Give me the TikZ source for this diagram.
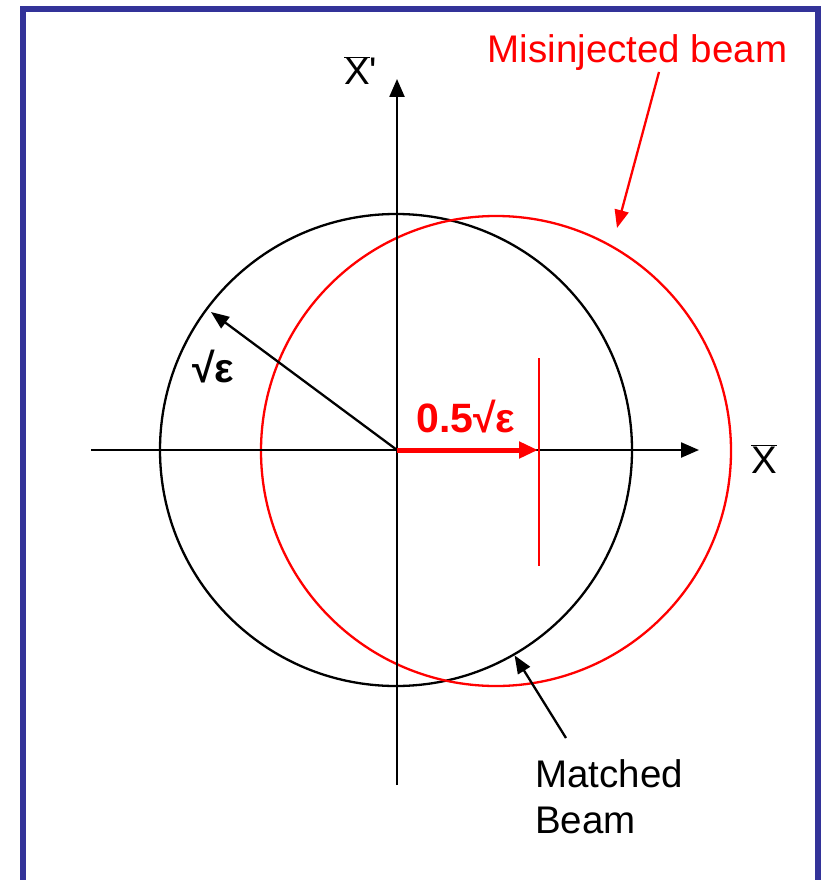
\documentclass[tikz,border=0pt]{standalone}
\usepackage{fontspec}
\setmainfont{Liberation Sans}
\newfontfamily\rawsans{Liberation Sans}
\usetikzlibrary{arrows.meta}
\definecolor{framecol}{HTML}{333399}
\definecolor{beamred}{HTML}{FF0000}
\begin{document}
\begin{tikzpicture}[x=1pt,y=-1pt,
  axis/.style={line width=2.3pt,-{Triangle[length=18pt,width=15pt]}},
  pointer/.style={line width=2.3pt,-{Triangle[length=18pt,width=14pt]}},
  lbl/.style={inner sep=0pt,font=\fontsize{38.5}{46}\selectfont},
  boldlbl/.style={inner sep=0pt,font=\fontsize{41}{46}\selectfont\bfseries}]
\useasboundingbox (0,0) rectangle (821,880);
\draw[framecol,line width=6pt] (23,9) rectangle (818,900);
% circles
\node[circle,draw,line width=2.3pt,minimum size=472pt,inner sep=0pt] (matched) at (396,450) {};
\node[circle,draw=beamred,line width=2.3pt,minimum size=470pt,inner sep=0pt] (mis) at (496,451) {};
\coordinate (O) at (397,450);
% axes
\coordinate (xs) at (91,450);
\coordinate (xe) at (699,450);
\coordinate (ys) at (397,785);
\coordinate (ye) at (397,79);
\draw[axis] (xs) -- (xe);
\draw[axis] (ys) -- (ye);
% radius arrow
\coordinate (rt) at (211,312);
\draw[pointer] (O) -- (rt);
\node[boldlbl,anchor=base west] (eps) at (192,382) {√ε};
% shift arrow
\coordinate (st) at (538,450);
\draw[beamred,line width=5pt,-{Triangle[length=19pt,width=16pt]}] (O) -- (st);
\coordinate (vt) at (539,358);
\coordinate (vb) at (539,566);
\draw[beamred,line width=2.5pt] (vt) -- (vb);
\node[boldlbl,anchor=base west,text=beamred] (half) at (416,432) {0.5√ε};
% axis labels
\node[lbl,anchor=base] (xlab) at (764,473) {$\overline{\mbox{X}}$};
\node[lbl,anchor=base west] (xplab) at (344,85) {$\overline{\mbox{X}}${\rawsans '}};
% misinjected
\node[lbl,anchor=base,text=beamred] (mislab) at (637.5,63) {Misinjected beam};
\coordinate (ms) at (659,72);
\coordinate (mt) at (617,228);
\draw[beamred,pointer] (ms) -- (mt);
% matched
\node[lbl,anchor=base west,align=left] (matlab) at (535,833) {Matched\\Beam};
\coordinate (bs) at (566,738);
\draw[pointer] (bs) -- (matched.-60);
\end{tikzpicture}
\end{document}
